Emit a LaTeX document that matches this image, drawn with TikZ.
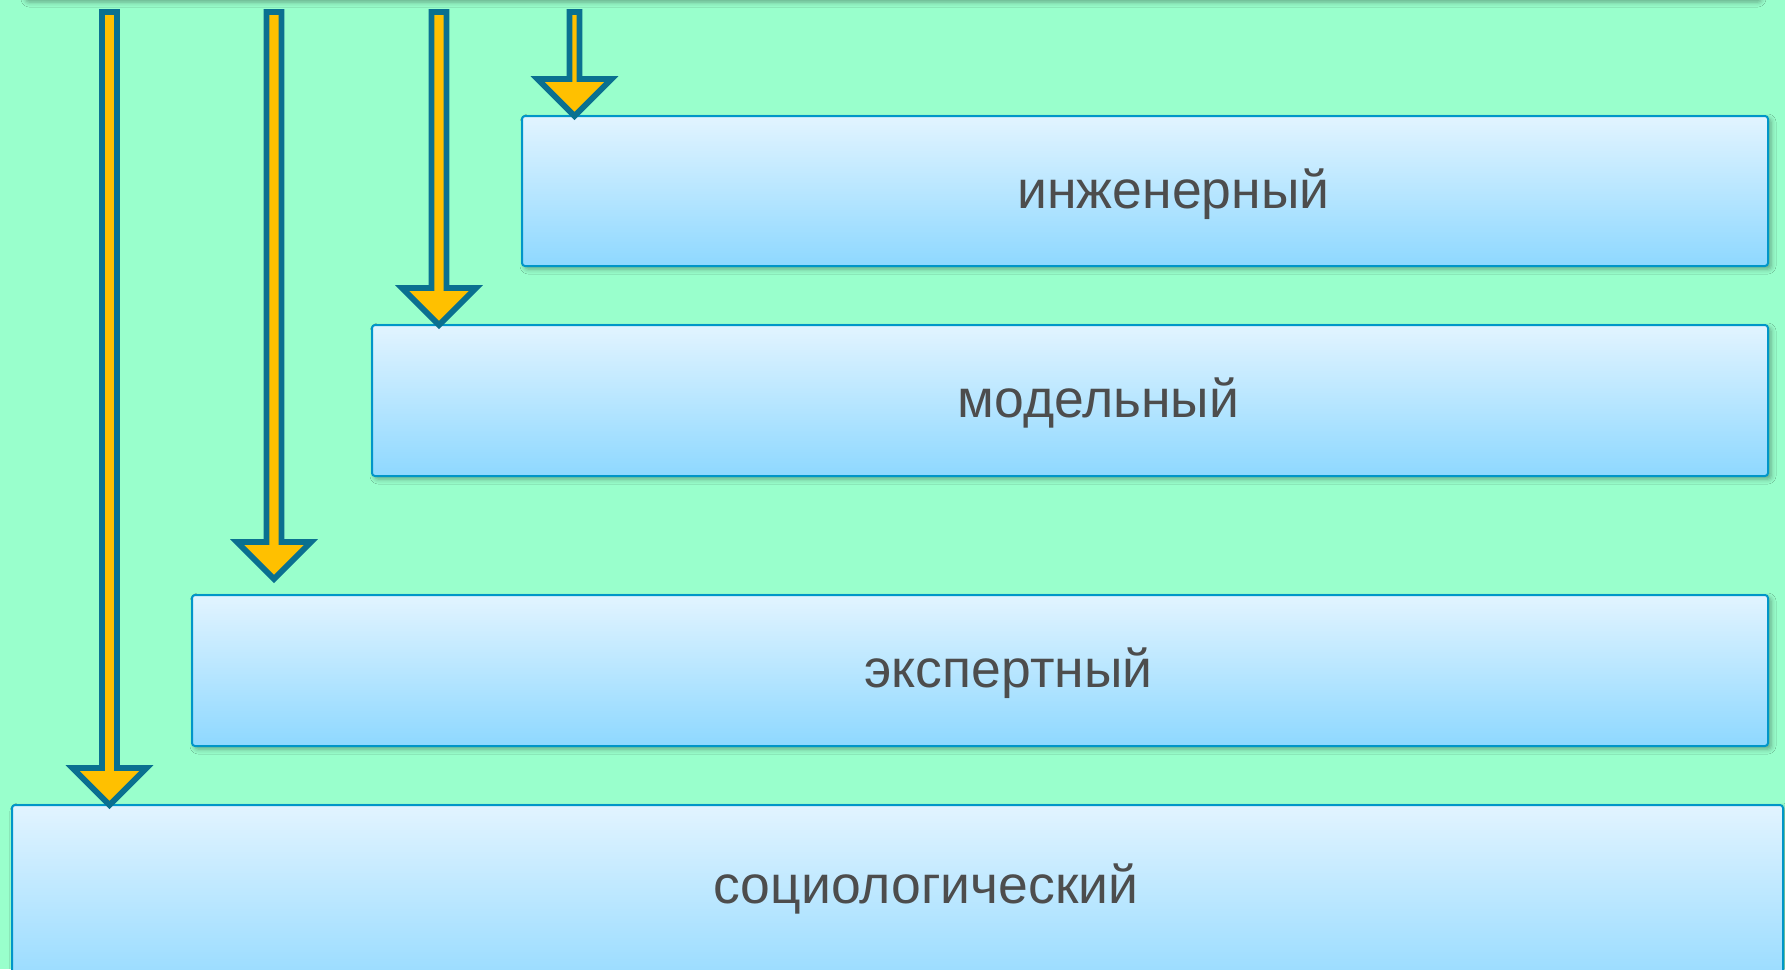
\documentclass[tikz,border=0pt]{standalone}
\usepackage{fontspec}
\setmainfont{Liberation Sans}
\usetikzlibrary{calc,shadows.blur}
\definecolor{bg}{HTML}{99FFCC}
\definecolor{boxline}{HTML}{0096C8}
\definecolor{boxtop}{HTML}{E2F4FF}
\definecolor{boxbot}{HTML}{8ED8FF}
\definecolor{txt}{HTML}{4D4D4D}
\definecolor{arrline}{HTML}{0A7090}
\definecolor{arrfill}{HTML}{FFC000}
% downward block arrow: #1 tip coordinate, #2 shaft half width
\newcommand\flowarrow[2]{%
  \draw[arr] (#1) -- ($(#1)+(-37,-37)$) -- ($(#1)+(-#2,-37)$)
    -- ($(#1 |- top.south)+(-#2,12)$) -- ($(#1 |- top.south)+(#2,12)$)
    -- ($(#1)+(#2,-37)$) -- ($(#1)+(37,-37)$) -- cycle;}
\begin{document}
\begin{tikzpicture}[x=1pt,y=-1pt,
  box/.style={draw=boxline, line width=2pt, rounded corners=3pt,
    top color=boxtop, bottom color=boxbot, anchor=north west, inner sep=0pt,
    blur shadow={shadow xshift=3pt, shadow yshift=-3pt,
      shadow blur radius=5pt, shadow opacity=35},
    font=\fontsize{53.5}{64}\selectfont, text=txt,
    text height=34pt, text depth=0pt},
  arr/.style={draw=arrline, fill=arrfill, line width=5.7pt, line join=miter}]
\useasboundingbox (0,0) rectangle (1785,969);
\fill[bg] (0,0) rectangle (1785,969);
\clip (0,0) rectangle (1785,969);

% banner above the visible area
\node[box, minimum width=1735pt, minimum height=120pt] (top) at (22,-122) {};

% levels
\node[box, minimum width=1246pt, minimum height=150pt] (b1) at (521,115)
  {\hspace*{57pt}инженерный};
\node[box, minimum width=1396pt, minimum height=151pt] (b2) at (371,324)
  {\hspace*{57pt}модельный};
\node[box, minimum width=1576pt, minimum height=151pt] (b3) at (191,594)
  {\hspace*{57pt}экспертный};
\node[box, minimum width=1771pt, minimum height=200pt, text depth=38pt] (b4)
  at (11,804) {\hspace*{57pt}социологический};

% arrow tips on (or just above) the top edges of the levels
\coordinate (t1) at ($(109.5,0 |- b4.north)+(0,1)$);
\coordinate (t2) at ($(274,0 |- b3.north)+(0,-15)$);
\coordinate (t3) at ($(439,0 |- b2.north)+(0,1)$);
\coordinate (t4) at ($(574.5,0 |- b1.north)+(0,1)$);

\flowarrow{t1}{7.5}
\flowarrow{t2}{7.5}
\flowarrow{t3}{7.5}
\flowarrow{t4}{5}
\end{tikzpicture}
\end{document}
